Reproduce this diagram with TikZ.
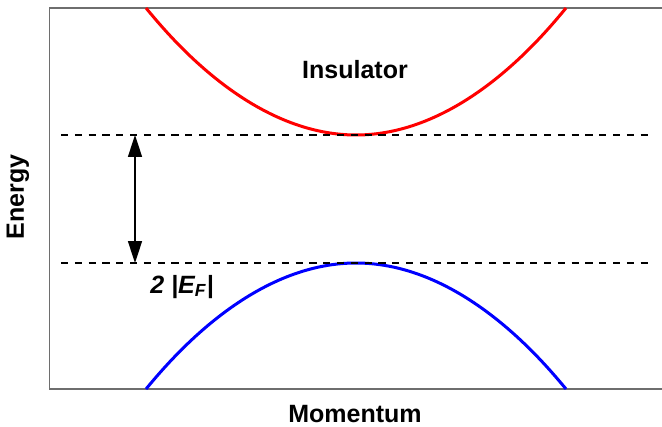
\documentclass[tikz,border=0pt]{standalone}
\usepackage{fontspec}
\setmainfont{Liberation Sans}
\usetikzlibrary{arrows.meta,positioning}
\definecolor{framegray}{HTML}{6E6E6E}
\definecolor{bandred}{HTML}{FF0000}
\definecolor{bandblue}{HTML}{0000FF}

\begin{document}
\begin{tikzpicture}[x=0.5pt, y=-0.5pt,
  every node/.style={font=\fontsize{12.5}{15}\selectfont\bfseries, inner sep=0pt},
  band/.style={line width=1.5pt},
  level/.style={dash pattern=on 3.6pt off 3.3pt, line width=0.8pt},
  gaparrow/.style={{Triangle[length=11pt,width=7pt]}-{Triangle[length=11pt,width=7pt]},
                   line width=0.8pt}
]
  \useasboundingbox (0,0) rectangle (662,427);

  % Axes frame (open on the right)
  \draw[framegray, line width=0.6pt] (662,8) -- (49.5,8) -- (49.5,389) -- (662,389);

  % Band edges
  \draw[band, bandred]  (146,8)   parabola bend (356,135) (566,8);
  \draw[band, bandblue] (146,389) parabola bend (356,263) (566,389);

  % Levels at the band edges
  \coordinate (cbleft)  at (61,135);
  \coordinate (cbright) at (652,135);
  \coordinate (vbleft)  at (61,263);
  \coordinate (vbright) at (652,263);
  \draw[level] (cbleft) -- (cbright);
  \draw[level] (vbleft) -- (vbright);

  % Gap
  \coordinate (gaptop) at (135,135);
  \coordinate (gapbot) at (135,263);
  \draw[gaparrow] (gaptop) -- (gapbot);
  \node[anchor=base west, font=\fontsize{12.5}{15}\selectfont\bfseries\itshape]
    (gaplabel) at (150,293) {2 |E\textsubscript{F}|};

  % Labels
  \node[anchor=base] (insulator) at (355,79) {Insulator};
  \node[anchor=base] (momentum) at (355,422) {Momentum};
  \node[anchor=base, rotate=90] (energy) at (24,197) {Energy};

\end{tikzpicture}
\end{document}
